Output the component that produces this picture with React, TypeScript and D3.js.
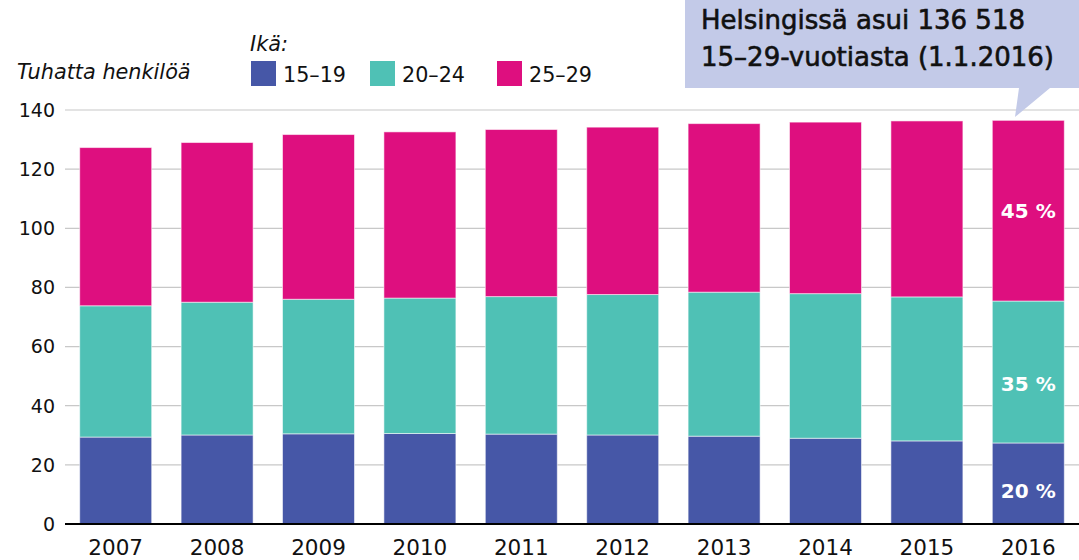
import React from "react";
import * as d3 from "d3";

const years = ["2007","2008","2009","2010","2011","2012","2013","2014","2015","2016"];
const age15_19 = [29.4, 30.1, 30.5, 30.6, 30.4, 30.1, 29.7, 29.0, 28.1, 27.4];
const age20_24 = [44.4, 44.9, 45.5, 45.8, 46.5, 47.5, 48.7, 48.9, 48.7, 48.0];
const age25_29 = [53.5, 54.0, 55.7, 56.2, 56.5, 56.6, 57.0, 58.0, 59.5, 61.1];
const seriesNames = ["15–19", "20–24", "25–29"];
const colors = ["#4657a7", "#4fc1b5", "#de0f7f"];
const yTicks = [0, 20, 40, 60, 80, 100, 120, 140];

const W = 1079, H = 560;
const FONT = "'DejaVu Sans', sans-serif";

export default function App() {
  const x = d3.scaleBand<string>().domain(years).range([65, 1079]).paddingInner(0.29).paddingOuter(0.145);
  const y = d3.scaleLinear().domain([0, 140]).range([524, 110]);
  const rows = years.map((yr, i) => ({ year: yr, a: age15_19[i], b: age20_24[i], c: age25_29[i] }));
  const stack = d3.stack<any>().keys(["a", "b", "c"]);
  const layers = stack(rows);
  const last = years.length - 1;
  const total = age15_19[last] + age20_24[last] + age25_29[last];

  return (
    <svg width={W} height={H} style={{ position: "absolute", left: 0, top: 0, fontFamily: FONT }}>
      <rect x={0} y={0} width={W} height={H} fill="#fff" />
      {yTicks.filter(t => t > 0).map(t => (
        <line key={t} x1={65} x2={W} y1={y(t)} y2={y(t)} stroke="#c8c8c8" strokeWidth={1.2} />
      ))}
      {yTicks.map(t => (
        <text key={"l" + t} x={55} y={y(t)} dy="0.36em" textAnchor="end" fontSize={19} fill="#111">{t}</text>
      ))}
      {layers.map((layer, li) => layer.map((d, i) => (
        <rect key={li + "-" + i} x={x(years[i])} width={x.bandwidth()} y={y(d[1])} height={y(d[0]) - y(d[1])}
          fill={colors[li]} stroke="#ffffff" strokeOpacity={0.55} strokeWidth={1} />
      )))}
      <line x1={65} x2={W} y1={y(0)} y2={y(0)} stroke="#000" strokeWidth={2} />
      {years.map(yr => (
        <text key={"x" + yr} x={(x(yr) as number) + x.bandwidth() / 2} y={555} textAnchor="middle" fontSize={21.5} fill="#111">{yr}</text>
      ))}
      {layers.map((layer, li) => {
        const d = layer[last];
        const v = d[1] - d[0];
        const offs = [7, 12, 0];
        return (
          <text key={"p" + li} x={(x(years[last]) as number) + x.bandwidth() / 2} y={(y(d[0]) + y(d[1])) / 2 + offs[li]}
            dy="0.36em" textAnchor="middle" fontSize={20} fontWeight={700} fill="#fff">{Math.round(v / total * 100)} %</text>
        );
      })}
      <text x={17} y={79} fontSize={20.8} fontStyle="italic" fill="#111">Tuhatta henkilöä</text>
      <text x={250} y={51} fontSize={20.8} fontStyle="italic" fill="#111">Ikä:</text>
      {seriesNames.map((s, i) => {
        const sx = [251, 370, 497][i];
        return (
          <g key={s}>
            <rect x={sx} y={61} width={25} height={25} fill={colors[i]} />
            <text x={sx + 32} y={82} fontSize={20.7} fill="#111">{s}</text>
          </g>
        );
      })}
      <path d="M685,0 H1079 V88 H1050 L1015,117 L1019,88 H685 Z" fill="#c3cae8" />
      <text x={701} y={29} fontSize={26} fill="#111" stroke="#111" strokeWidth={0.6}>Helsingissä asui 136 518</text>
      <text x={701} y={66} fontSize={26} fill="#111" stroke="#111" strokeWidth={0.6}>15–29-vuotiasta (1.1.2016)</text>
    </svg>
  );
}
